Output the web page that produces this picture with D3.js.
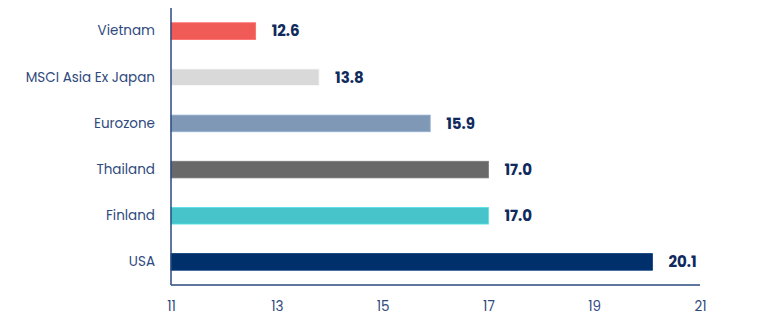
<!DOCTYPE html>
<html><head><meta charset="utf-8">
<script src="https://cdn.jsdelivr.net/npm/d3@7"></script>
<style>body{margin:0;background:#fff}svg{display:block}</style>
</head><body><svg id="c" width="770" height="330"></svg>
<script>
const categories = ["Vietnam","MSCI Asia Ex Japan","Eurozone","Thailand","Finland","USA"];
const values = [12.6,13.8,15.9,17.0,17.0,20.1];
const colors = ["#F05A57","#D9D9D9","#7F98B5","#696969","#47C4CA","#00306B"];
const ticks = [11,13,15,17,19,21];

(function(){
const svg = d3.select("#c");
const mLeft = 171, mRight = 700, mTop = 8, mBottom = 285;
const x = d3.scaleLinear().domain([11,21]).range([mLeft,mRight]);
const y = d3.scaleBand().domain(categories).range([mTop,mBottom]).paddingInner(0.64).paddingOuter(0.32);

svg.selectAll("rect.bar").data(categories).enter().append("rect")
  .attr("class","bar")
  .attr("x", x(11))
  .attr("y", d => y(d))
  .attr("width", (d,i) => x(values[i]) - x(11))
  .attr("height", y.bandwidth())
  .attr("fill", (d,i) => colors[i])
  .attr("stroke", (d,i) => d3.color(colors[i]).brighter(0.4))
  .attr("stroke-width", 0.8);

svg.selectAll("text.val").data(categories).enter().append("text")
  .attr("class","val")
  .attr("x", (d,i) => x(values[i]) + 16)
  .attr("y", d => y(d) + y.bandwidth()/2)
  .attr("dy","0.36em")
  .attr("font-family","Poppins, 'Open Sans', sans-serif")
  .attr("font-weight","bold")
  .attr("font-size","15px")
  .attr("fill","#0F2A5C")
  .text((d,i) => values[i].toFixed(1));

const yAxis = svg.append("g").attr("transform",`translate(${mLeft},0)`)
  .call(d3.axisLeft(y).tickSize(0).tickPadding(16));
yAxis.select(".domain").attr("d",`M0,${mTop}V${mBottom}`).attr("stroke","#2B4A7D").attr("stroke-width",1.5);
yAxis.selectAll("text").attr("font-family","Poppins, 'Open Sans', sans-serif").attr("font-size","13.5px").attr("fill","#2F4A7E");

const xAxis = svg.append("g").attr("transform",`translate(0,${mBottom})`)
  .call(d3.axisBottom(x).tickValues(ticks).tickFormat(d3.format("d")).tickSize(0).tickPadding(16));
xAxis.select(".domain").attr("d",`M${mLeft},0H${mRight}`).attr("stroke","#2B4A7D").attr("stroke-width",1.5);
xAxis.selectAll("text").attr("font-family","Poppins, 'Open Sans', sans-serif").attr("font-size","13.5px").attr("fill","#2F4A7E");
})();
</script></body></html>
